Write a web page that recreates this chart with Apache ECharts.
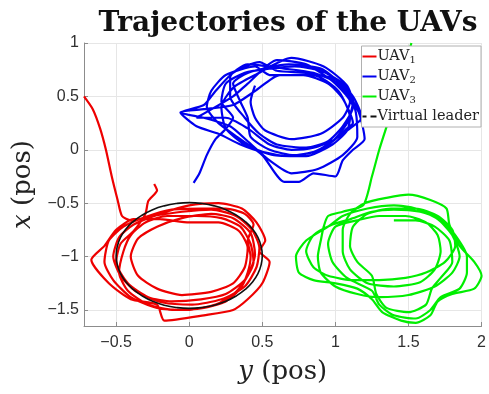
<!DOCTYPE html>
<html>
<head>
<meta charset="utf-8">
<script src="https://cdn.jsdelivr.net/npm/echarts@6/dist/echarts.min.js"></script>
<style>
  html, body { margin: 0; padding: 0; background: #fff; }
  #chart { width: 489px; height: 394px; }
</style>
</head>
<body>
<div id="chart"></div>
<script>
// Planar trajectories [y, x] (pos) of three UAVs and the virtual leader.
const uav1 = [
  [-0.72,0.50],[-0.66,0.38],[-0.61,0.20],[-0.57,0.00],[-0.53,-0.25],[-0.49,-0.47],[-0.46,-0.62],
  [-0.40,-0.66],[-0.25,-0.62],[-0.05,-0.58],[0.15,-0.56],[0.32,-0.62],[0.43,-0.75],[0.48,-0.92],[0.46,-1.10],[0.38,-1.28],[0.22,-1.40],[0.02,-1.45],[-0.18,-1.43],[-0.36,-1.33],[-0.47,-1.18],[-0.52,-1.00],[-0.48,-0.82],[-0.38,-0.70],
  [-0.20,-0.60],[0.00,-0.52],[0.20,-0.50],[0.36,-0.55],[0.46,-0.68],[0.52,-0.85],[0.48,-0.95],[0.55,-1.05],[0.50,-1.25],[0.40,-1.40],[0.30,-1.50],[0.10,-1.55],[-0.17,-1.60],[-0.22,-1.45],[-0.40,-1.40],[-0.55,-1.25],[-0.67,-1.03],[-0.58,-0.90],[-0.50,-0.75],[-0.38,-0.65],
  [-0.20,-0.65],[0.00,-0.68],[0.20,-0.68],[0.34,-0.76],[0.40,-0.92],[0.38,-1.10],[0.30,-1.25],[0.15,-1.33],[-0.05,-1.36],[-0.22,-1.30],[-0.35,-1.18],[-0.40,-1.00],[-0.35,-0.83],[-0.22,-0.72],
  [-0.05,-0.64],[0.15,-0.60],[0.30,-0.64],[0.42,-0.78],[0.45,-0.98],[0.40,-1.18],[0.32,-1.33],[0.18,-1.45],[-0.02,-1.50],[-0.22,-1.48],[-0.40,-1.38],[-0.52,-1.22],[-0.58,-1.05],[-0.55,-0.85],[-0.45,-0.72],[-0.30,-0.63],
  [-0.12,-0.56],[0.08,-0.55],[0.25,-0.55],[0.38,-0.60],[0.44,-0.70],[0.40,-0.85],[0.42,-1.00],[0.40,-1.15],[0.35,-1.30],[0.25,-1.42],[0.10,-1.48],[-0.10,-1.50],[-0.28,-1.45],[-0.42,-1.32],[-0.48,-1.15],[-0.45,-0.95],[-0.40,-0.80],[-0.30,-0.68],
  [-0.15,-0.62],[0.05,-0.62],[0.22,-0.64],[0.35,-0.72],[0.42,-0.88],[0.44,-1.05],[0.38,-1.22],[0.25,-1.35],[0.08,-1.40],[-0.12,-1.42],[-0.28,-1.38],[-0.42,-1.25],[-0.50,-1.05],[-0.47,-0.88],[-0.38,-0.76],
  [-0.30,-0.60],[-0.28,-0.48],[-0.22,-0.38],[-0.24,-0.32]
];
const uav2 = [
  [0.03,-0.31],[0.07,-0.22],[0.12,-0.05],[0.18,0.10],[0.24,0.18],
  [0.30,0.30],[0.22,0.45],[0.25,0.62],[0.38,0.72],[0.55,0.76],[0.72,0.78],[0.90,0.74],[1.05,0.62],[1.12,0.45],[1.08,0.25],[0.98,0.08],[0.85,-0.02],[0.68,-0.06],[0.50,-0.02],[0.35,0.05],[0.20,0.15],[0.05,0.22],[-0.06,0.35],[0.10,0.38],[0.30,0.42],
  [0.45,0.55],[0.62,0.70],[0.85,0.70],[1.02,0.55],[1.10,0.30],[1.08,0.18],[0.98,0.05],[0.80,-0.06],[0.58,-0.05],[0.38,0.05],[0.25,0.20],[0.22,0.40],[0.30,0.58],[0.45,0.70],
  [0.70,0.86],[0.92,0.78],[1.08,0.60],[1.14,0.35],[1.15,0.12],[1.05,-0.05],[0.88,-0.18],[0.70,-0.22],[0.55,-0.10],[0.40,0.08],[0.28,0.22],[0.10,0.30],[-0.06,0.35],[0.10,0.42],[0.18,0.55],[0.30,0.72],[0.48,0.82],
  [0.60,0.74],[0.80,0.72],[1.00,0.66],[1.12,0.50],[1.18,0.30],[1.10,0.20],[1.02,0.12],[0.90,0.00],[0.72,-0.05],[0.55,0.00],[0.42,0.12],[0.40,0.30],[0.35,0.45],[0.30,0.62],[0.40,0.72],
  [0.68,0.80],[0.90,0.76],[1.05,0.60],[1.16,0.35],[1.20,0.10],[1.12,0.00],[1.05,-0.10],[1.00,-0.25],[0.85,-0.22],[0.75,-0.30],[0.65,-0.30],[0.50,-0.05],[0.35,0.10],[0.20,0.25],[0.12,0.40],[0.15,0.55],[0.25,0.70],[0.45,0.78],
  [0.55,0.70],[0.78,0.70],[0.95,0.62],[1.05,0.48],[1.12,0.25],[1.08,0.20],[1.00,0.10],[0.85,0.02],[0.70,0.00],[0.55,0.05],[0.40,0.20],[0.25,0.30],[0.05,0.30],[0.30,0.50],[0.40,0.62],
  [0.60,0.84],[0.80,0.80],[1.00,0.62],[1.12,0.40],[1.05,0.22],[0.95,0.08],[0.80,0.02],[0.60,0.05],[0.48,0.15],[0.38,0.30],[0.28,0.50],[0.28,0.68],[0.40,0.80],
  [0.65,0.76],[0.85,0.72],[1.02,0.62],[1.10,0.45],[1.05,0.30],[0.90,0.15],[0.70,0.10],[0.52,0.18],[0.45,0.30],[0.42,0.45],[0.45,0.60]
];
const uav3 = [
  [1.52,1.00],[1.45,0.65],[1.37,0.30],[1.30,0.00],[1.25,-0.25],[1.19,-0.52],
  [1.05,-0.58],[0.95,-0.62],[0.92,-0.72],[0.90,-0.85],[0.88,-1.00],[0.90,-1.15],[1.00,-1.28],[1.15,-1.35],[1.30,-1.38],[1.50,-1.36],[1.68,-1.28],[1.80,-1.15],[1.85,-1.00],[1.80,-0.80],[1.70,-0.65],[1.55,-0.55],[1.40,-0.52],[1.22,-0.55],
  [1.05,-0.62],[0.95,-0.72],[0.80,-0.85],[0.73,-1.00],[0.75,-1.15],[0.85,-1.22],[1.00,-1.25],[1.15,-1.30],[1.25,-1.40],[1.32,-1.52],[1.45,-1.60],[1.55,-1.62],[1.65,-1.55],[1.70,-1.42],[1.80,-1.35],[1.95,-1.30],[2.00,-1.18],[1.95,-1.05],[1.85,-0.90],[1.78,-0.70],[1.76,-0.55],[1.65,-0.47],[1.50,-0.42],[1.35,-0.45],[1.20,-0.50],
  [1.10,-0.60],[1.05,-0.75],[1.05,-0.95],[1.10,-1.12],[1.22,-1.25],[1.40,-1.28],[1.58,-1.24],[1.68,-1.12],[1.72,-0.95],[1.70,-0.80],[1.62,-0.68],[1.48,-0.62],[1.30,-0.62],[1.15,-0.66],
  [1.00,-0.72],[0.95,-0.88],[0.98,-1.05],[1.08,-1.20],[1.25,-1.32],[1.30,-1.45],[1.40,-1.55],[1.55,-1.58],[1.65,-1.50],[1.72,-1.38],[1.85,-1.30],[1.90,-1.15],[1.90,-1.00],[1.82,-0.80],[1.72,-0.65],[1.58,-0.58],[1.40,-0.56],[1.25,-0.58],
  [1.10,-0.65],[0.98,-0.70],[0.85,-0.80],[0.80,-0.95],[0.85,-1.10],[0.95,-1.18],[1.12,-1.22],[1.30,-1.22],[1.48,-1.20],[1.62,-1.15],[1.75,-1.05],[1.82,-0.90],[1.80,-0.75],[1.70,-0.62],[1.55,-0.55],[1.38,-0.55],
  [1.22,-0.60],[1.12,-0.72],[1.10,-0.90],[1.15,-1.05],[1.25,-1.18],[1.28,-1.35],[1.35,-1.48],[1.50,-1.52],[1.62,-1.45],[1.66,-1.30],[1.72,-1.20],[1.80,-1.05],[1.78,-0.85],[1.68,-0.72],[1.55,-0.66],[1.40,-0.66]
];
const leader = [
  [0.5,-0.99],[0.492,-0.904],[0.470,-0.821],[0.433,-0.742],[0.383,-0.672],[0.321,-0.611],[0.25,-0.561],[0.171,-0.525],[0.087,-0.503],
  [0,-0.495],[-0.087,-0.503],[-0.171,-0.525],[-0.25,-0.561],[-0.321,-0.611],[-0.383,-0.672],[-0.433,-0.742],[-0.470,-0.821],[-0.492,-0.904],
  [-0.5,-0.99],[-0.492,-1.076],[-0.470,-1.159],[-0.433,-1.238],[-0.383,-1.308],[-0.321,-1.369],[-0.25,-1.419],[-0.171,-1.455],[-0.087,-1.477],
  [0,-1.485],[0.087,-1.477],[0.171,-1.455],[0.25,-1.419],[0.321,-1.369],[0.383,-1.308],[0.433,-1.238],[0.470,-1.159],[0.492,-1.076],[0.5,-0.99]
];
const seriesNames = ['UAV1', 'UAV2', 'UAV3', 'Virtual leader'];
const seriesColors = ['#ee0000', '#0000ee', '#00ee00', '#111111'];
const xRange = [-0.72, 2];
const yRange = [-1.65, 1];

const serif = '"DejaVu Serif", "Liberation Serif", serif';
const sans = '"Liberation Sans", Arial, sans-serif';

// legend glyphs: a solid stroke and a dashed stroke
const solidIcon = 'path://M0,0H14V2H0Z';
const dashedIcon = 'path://M0,0H4V2H0Z M8,0H14V2H8Z';

function trajectory(name, data, color, width) {
  return {
    name, type: 'line', data, smooth: 0.22, symbol: 'none',
    lineStyle: { color, width }, itemStyle: { color },
    animation: false, z: 2
  };
}

const tickFmt = v => String(v).replace('-', '\u2212');

const axisCommon = {
  axisLine: { show: true, onZero: false, lineStyle: { color: '#8c8c8c', width: 1 } },
  axisTick: { show: true, inside: true, length: 4, lineStyle: { color: '#8c8c8c' } },
  splitLine: { show: true, lineStyle: { color: '#e6e6e6', width: 1 } }
};
const nameStyle = {
  fontFamily: serif, fontSize: 26, color: '#222',
  rich: { i: { fontFamily: serif, fontStyle: 'italic', fontSize: 26, color: '#222' } }
};

const chart = echarts.init(document.getElementById('chart'), null, { renderer: 'canvas' });
chart.setOption({
  animation: false,
  title: {
    text: 'Trajectories of the UAVs', left: 283, top: 5, textAlign: 'center',
    textStyle: { fontFamily: serif, fontWeight: 'bold', fontSize: 28, color: '#111' }
  },
  grid: { left: 84, right: 6, top: 43, bottom: 68, containLabel: false },
  legend: {
    orient: 'vertical', right: 8, top: 46,
    backgroundColor: '#fff', borderColor: '#b0b0b0', borderWidth: 1, borderRadius: 0,
    padding: [3, 2, 3, 1], itemGap: 4, itemWidth: 14, itemHeight: 2,
    icon: solidIcon,
    textStyle: {
      fontFamily: serif, fontSize: 14.5, color: '#222', padding: [0, 0, 0, -4],
      rich: { s: { fontFamily: serif, fontSize: 10, color: '#222', padding: [7, 0, 0, 0] } }
    },
    formatter: n => n.startsWith('UAV') ? 'UAV{s|' + n.slice(3) + '}' : n,
    data: [
      { name: seriesNames[0] }, { name: seriesNames[1] }, { name: seriesNames[2] },
      { name: seriesNames[3], icon: dashedIcon }
    ]
  },
  xAxis: Object.assign({
    type: 'value', min: xRange[0], max: xRange[1],
    name: '{i|y} (pos)', nameLocation: 'middle', nameGap: 33, nameTextStyle: nameStyle,
    axisLabel: { showMinLabel: false, formatter: tickFmt, fontFamily: sans, fontSize: 16, color: '#303030', margin: 9 }
  }, axisCommon),
  yAxis: Object.assign({
    type: 'value', min: yRange[0], max: yRange[1],
    name: '{i|x} (pos)', nameLocation: 'middle', nameGap: 34, nameRotate: 90, nameTextStyle: nameStyle,
    axisLabel: { showMinLabel: false, formatter: tickFmt, fontFamily: sans, fontSize: 16, color: '#303030', margin: 5 }
  }, axisCommon),
  series: [
    trajectory(seriesNames[0], uav1, seriesColors[0], 2.2),
    trajectory(seriesNames[1], uav2, seriesColors[1], 2.2),
    trajectory(seriesNames[2], uav3, seriesColors[2], 2.2),
    Object.assign(trajectory(seriesNames[3], leader, seriesColors[3], 1.6), { smooth: 0.5, z: 3 })
  ]
});
</script>
</body>
</html>
